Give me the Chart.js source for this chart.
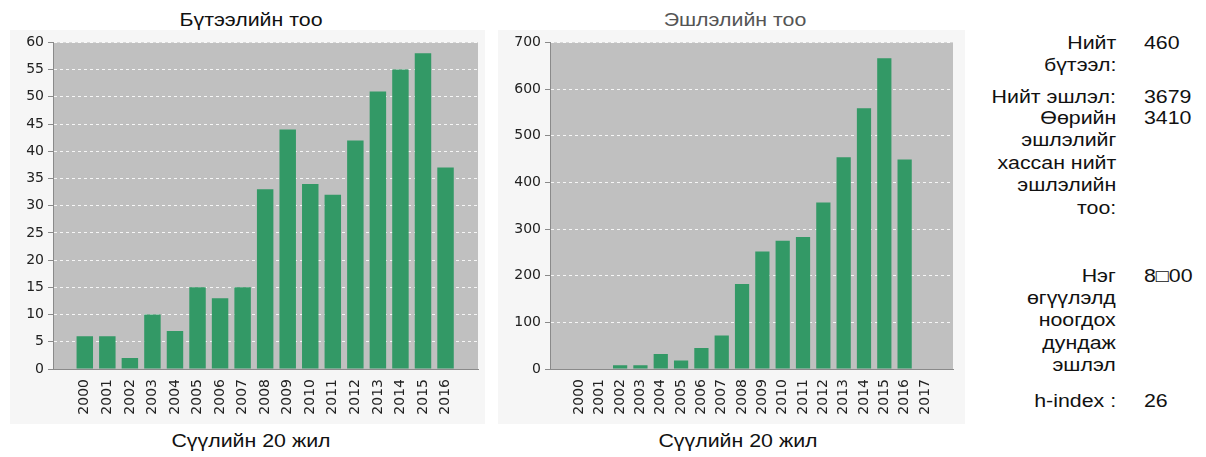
<!DOCTYPE html>
<html>
<head>
<meta charset="utf-8">
<script src="https://cdn.jsdelivr.net/npm/chart.js@4.4.0/dist/chart.umd.min.js"></script>
<style>
  body { margin: 0; width: 1206px; height: 457px; overflow: hidden; position: relative; background: #fff;
         font-family: "Liberation Sans", Arial, sans-serif; color: #111; }
  .panel { position: absolute; top: 30px; height: 394px; background: #f6f6f6; }
  .panel canvas { position: absolute; left: 0; top: 0; }
  .cap { position: absolute; width: 400px; text-align: center; font-size: 17.5px; line-height: 22px;
         white-space: nowrap; transform: scaleX(1.22); transform-origin: center; }
  .lbl, .val { position: absolute; font-size: 17.5px; line-height: 22.4px; white-space: nowrap; transform: scaleX(1.22); }
  .lbl { right: 90px; text-align: right; transform-origin: right top; }
  .val { left: 1144px; transform-origin: left top; }
</style>
</head>
<body>

<div class="cap" style="left:51px; top:9px;">Бүтээлийн тоо</div>
<div class="cap" style="left:535px; top:9px; color:#555;">Эшлэлийн тоо</div>

<div class="panel" style="left:10px; width:475px;"><canvas id="pubChart" width="475" height="394"></canvas></div>
<div class="panel" style="left:498px; width:467px;"><canvas id="citeChart" width="467" height="394"></canvas></div>

<div class="cap" style="left:51px; top:430px;">Сүүлийн 20 жил</div>
<div class="cap" style="left:538px; top:430px;">Сүүлийн 20 жил</div>

<div class="lbl" style="top:32px;">Нийт<br>бүтээл:</div>
<div class="val" style="top:32px;">460</div>
<div class="lbl" style="top:86px;">Нийт эшлэл:</div>
<div class="val" style="top:86px;">3679</div>
<div class="lbl" style="top:107px;">Өөрийн<br>эшлэлийг<br>хассан нийт<br>эшлэлийн<br>тоо:</div>
<div class="val" style="top:107px;">3410</div>
<div class="lbl" style="top:264.5px;">Нэг<br>өгүүлэлд<br>ноогдох<br>дундаж<br>эшлэл</div>
<div class="val" style="top:264.5px;">8□00</div>
<div class="lbl" style="top:389.5px;">h-index :</div>
<div class="val" style="top:389.5px;">26</div>

<script>
// publications per year
const pubYears = [2000, 2001, 2002, 2003, 2004, 2005, 2006, 2007, 2008, 2009, 2010, 2011, 2012, 2013, 2014, 2015, 2016];
const pubCounts = [6, 6, 2, 10, 7, 15, 13, 15, 33, 44, 34, 32, 42, 51, 55, 58, 37];
const pubTicks = [0, 5, 10, 15, 20, 25, 30, 35, 40, 45, 50, 55, 60];

// citations per year
const citeYears = [2000, 2001, 2002, 2003, 2004, 2005, 2006, 2007, 2008, 2009, 2010, 2011, 2012, 2013, 2014, 2015, 2016, 2017];
const citeCounts = [0, 0, 8, 8, 32, 18, 45, 72, 182, 252, 275, 283, 357, 454, 559, 666, 449, 0];
const citeTicks = [0, 100, 200, 300, 400, 500, 600, 700];

const plotBg = {
  id: 'plotBg',
  beforeDraw(chart) {
    const { ctx, chartArea: a } = chart;
    ctx.save();
    ctx.fillStyle = '#c0c0c0';
    ctx.fillRect(a.left, a.top, a.right - a.left, a.bottom - a.top);
    ctx.restore();
  }
};

const tickFont = { family: "'DejaVu Sans', Verdana, sans-serif", size: 14 };

function makeChart(id, years, counts, yTicks, xMin, xMax, pad, yWidth, barPct) {
  return new Chart(document.getElementById(id), {
    type: 'bar',
    data: {
      datasets: [{
        data: years.map((y, i) => ({ x: y, y: counts[i] })),
        backgroundColor: '#339966',
        borderWidth: 0,
        barPercentage: barPct,
        categoryPercentage: 1
      }]
    },
    options: {
      responsive: false,
      animation: false,
      events: [],
      layout: { padding: pad },
      plugins: { legend: { display: false }, tooltip: { enabled: false } },
      scales: {
        x: {
          type: 'linear',
          offset: false,
          min: xMin,
          max: xMax,
          grid: { display: false },
          border: { color: '#8a8a8a' },
          afterBuildTicks: s => { s.ticks = years.map(v => ({ value: v })); },
          afterFit: s => { s.height = 55; },
          ticks: {
            autoSkip: false, minRotation: 90, maxRotation: 90, padding: 2,
            color: '#222', font: tickFont,
            callback: v => String(v)
          }
        },
        y: {
          min: 0,
          max: yTicks[yTicks.length - 1],
          afterBuildTicks: s => { s.ticks = yTicks.map(v => ({ value: v })); },
          afterFit: s => { s.width = yWidth; },
          grid: {
            color: c => (c.tick && c.tick.value === 0) ? 'rgba(0,0,0,0)' : 'rgba(255,255,255,0.85)',
            tickColor: '#8a8a8a',
            tickLength: 5,
            tickBorderDash: []
          },
          border: { color: '#8a8a8a', dash: [3, 3] },
          ticks: { padding: 4, color: '#222', font: tickFont, callback: v => String(v) }
        }
      }
    },
    plugins: [plotBg]
  });
}

makeChart('pubChart', pubYears, pubCounts, pubTicks, 1998.59, 2017.44, { left: 0, top: 12, right: 7, bottom: 0 }, 43, 0.73);
makeChart('citeChart', citeYears, citeCounts, citeTicks, 1998.55, 2018.38, { left: 0, top: 10, right: 12, bottom: 0 }, 52, 0.70);
</script>
</body>
</html>
